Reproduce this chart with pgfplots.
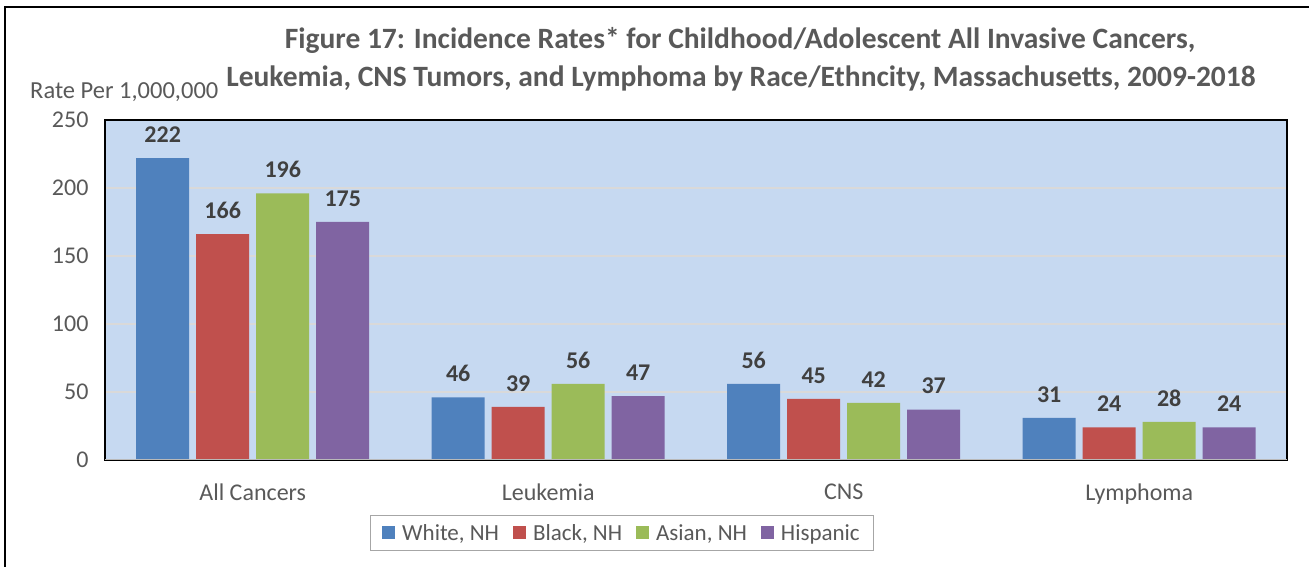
\documentclass[border=0pt]{standalone}
\usepackage{pgfplots}
\pgfplotsset{compat=1.18}
\usepackage{fontspec}
\setmainfont{Carlito}
\definecolor{cW}{HTML}{4F81BD}
\definecolor{cB}{HTML}{C0504D}
\definecolor{cA}{HTML}{9BBB59}
\definecolor{cH}{HTML}{8064A2}
\definecolor{bgblue}{HTML}{C6D9F1}
\definecolor{gridgray}{HTML}{D9D9D9}
\definecolor{labgray}{HTML}{595959}
\definecolor{dlab}{HTML}{404040}
\definecolor{leggray}{HTML}{A6A6A6}
\begin{document}
\begin{tikzpicture}[x=1pt,y=1pt]
\path[use as bounding box] (0,0) rectangle (1309,567);
\draw[line width=1.5pt, black] (5,-10) -- (5,560) -- (1320,560);
\node[anchor=base, text=labgray, font=\bfseries\fontsize{29.5}{34}\selectfont] at (740,518) {Figure 17: Incidence Rates* for Childhood/Adolescent All Invasive Cancers,};
\node[anchor=base, text=labgray, font=\bfseries\fontsize{29.5}{34}\selectfont] at (741,480) {Leukemia, CNS Tumors, and Lymphoma by Race/Ethncity, Massachusetts, 2009-2018};
\node[anchor=base west, inner sep=0pt, text=labgray, font=\fontsize{24.5}{28}\selectfont] at (30,468) {Rate Per 1,000,000};
\begin{axis}[
  at={(105pt,107pt)}, anchor=south west,
  scale only axis, width=1182pt, height=340pt,
  ybar=7pt, bar width=53pt,
  ymin=0, ymax=250, xmin=-0.5, xmax=3.5,
  xtick={0,1,2,3},
  xticklabels={All Cancers, Leukemia, CNS, Lymphoma},
  ytick={0,50,100,150,200,250},
  axis background/.style={fill=bgblue},
  ymajorgrids, grid style={color=gridgray, line width=1.2pt},
  axis line style={black, line width=1.5pt},
  major tick length=0pt,
  tick style={draw=none},
  ticklabel style={font=\fontsize{24}{28}\selectfont, text=labgray},
  /pgf/number format/assume math mode=true,
  yticklabel style={xshift=-13pt},
  xticklabel style={yshift=-20pt},
  nodes near coords,
  every node near coord/.append style={font=\bfseries\fontsize{24}{28}\selectfont, text=dlab, yshift=12pt},
  legend columns=4,
  legend style={at={(axis description cs:0.4374,-0.2147)}, anchor=center,
    draw=leggray, line width=1.2pt, font=\fontsize{23}{27}\selectfont, text=labgray,
    inner xsep=12pt, inner ysep=3pt,
    /tikz/every even column/.append style={column sep=12pt}},
  legend image code/.code={\fill[#1] (0pt,-6pt) rectangle (13pt,7pt); \path[fill=none, draw=none] (0pt,-14pt) rectangle (18pt,15pt);},
]
\addplot[fill=cW, draw=none] coordinates {(0,222) (1,46) (2,56) (3,31)};
\addplot[fill=cB, draw=none] coordinates {(0,166) (1,39) (2,45) (3,24)};
\addplot[fill=cA, draw=none] coordinates {(0,196) (1,56) (2,42) (3,28)};
\addplot[fill=cH, draw=none] coordinates {(0,175) (1,47) (2,37) (3,24)};
\legend{{White, NH}, {Black, NH}, {Asian, NH}, {Hispanic}}
\draw[gray!55, line width=1.5pt] (rel axis cs:0,0) -- (rel axis cs:1,0);
\end{axis}
\end{tikzpicture}
\end{document}
